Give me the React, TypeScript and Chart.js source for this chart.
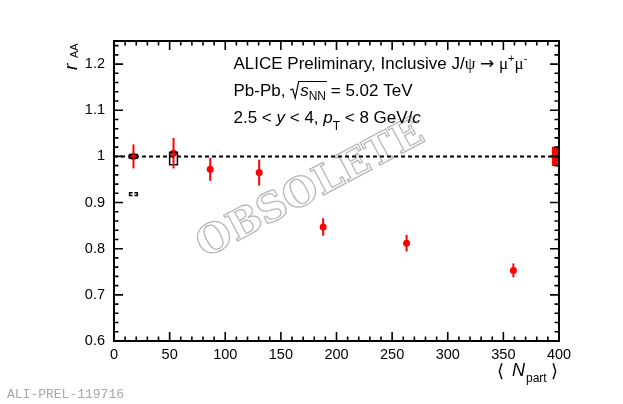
import { useEffect, useRef } from 'react';
import { Chart, registerables } from 'chart.js';

Chart.register(...registerables);

// <Npart> centres and r_AA values
const npart = [17.5, 53.5, 86.5, 130.5, 188, 263, 359];
const raa = [1.0, 1.007, 0.972, 0.965, 0.847, 0.812, 0.753];
const statErr = [0.026, 0.033, 0.025, 0.028, 0.019, 0.018, 0.015];

// uncorrelated systematic brackets (only visible ones)
const sysX = [17.5, 53.5, 17.5];
const sysLow = [0.996, 0.982, 0.915];
const sysHigh = [1.004, 1.009, 0.921];
const sysHalfWidth = 3.5;

// global (correlated) uncertainty box drawn at the right edge
const globalUnc = 0.021;
const globalBoxWidth = 6.4;

const xTickLabels = ['0', '50', '100', '150', '200', '250', '300', '350', '400'];

const SANS = '"Liberation Sans", Arial, sans-serif';
const SERIF = '"Liberation Serif", "DejaVu Serif", serif';
const RED = '#ff0000';

type Seg = { t: string; font: string; dy?: number };

function drawRich(ctx: CanvasRenderingContext2D, x: number, y: number, segs: Seg[]) {
  for (const s of segs) {
    ctx.font = s.font;
    ctx.fillText(s.t, x, y + (s.dy || 0));
    x += ctx.measureText(s.t).width;
  }
  return x;
}

const rootStyle = {
  id: 'rootStyle',
  beforeDatasetsDraw(chart: any) {
    const { ctx } = chart;
    const xs = chart.scales.x;
    const ys = chart.scales.y;

    // watermark
    ctx.save();
    ctx.translate(311, 190);
    ctx.rotate(-0.49);
    ctx.font = 'bold 40px "DejaVu Serif", serif';
    ctx.textAlign = 'center';
    ctx.textBaseline = 'middle';
    ctx.strokeStyle = '#b8b8b8';
    ctx.lineWidth = 1.3;
    ctx.strokeText('OBSOLETE', 0, 0);
    ctx.restore();

    // statistical error bars
    ctx.save();
    ctx.strokeStyle = RED;
    ctx.lineWidth = 2;
    npart.forEach((n, i) => {
      const px = xs.getPixelForValue(n);
      ctx.beginPath();
      ctx.moveTo(px, ys.getPixelForValue(raa[i] + statErr[i]));
      ctx.lineTo(px, ys.getPixelForValue(raa[i] - statErr[i]));
      ctx.stroke();
    });

    // global uncertainty box
    ctx.fillStyle = RED;
    const gx0 = xs.getPixelForValue(400 - globalBoxWidth);
    const gx1 = xs.getPixelForValue(400);
    const gy0 = ys.getPixelForValue(1 + globalUnc);
    const gy1 = ys.getPixelForValue(1 - globalUnc);
    ctx.fillRect(gx0, gy0, gx1 - gx0, gy1 - gy0);
    ctx.restore();
  },
  afterDatasetsDraw(chart: any) {
    const { ctx } = chart;
    const xs = chart.scales.x;
    const ys = chart.scales.y;
    ctx.save();
    ctx.strokeStyle = '#000';
    ctx.lineWidth = 1.5;
    const tab = 3;
    sysX.forEach((n, i) => {
      const xl = xs.getPixelForValue(n - sysHalfWidth);
      const xr = xs.getPixelForValue(n + sysHalfWidth);
      const yt = ys.getPixelForValue(sysHigh[i]);
      const yb = ys.getPixelForValue(sysLow[i]);
      ctx.beginPath();
      ctx.moveTo(xl + tab, yt);
      ctx.lineTo(xl, yt);
      ctx.lineTo(xl, yb);
      ctx.lineTo(xl + tab, yb);
      ctx.moveTo(xr - tab, yt);
      ctx.lineTo(xr, yt);
      ctx.lineTo(xr, yb);
      ctx.lineTo(xr - tab, yb);
      ctx.stroke();
    });
    ctx.restore();
  },
  afterDraw(chart: any) {
    const { ctx, chartArea } = chart;
    const { left, right, top, bottom } = chartArea;
    const xs = chart.scales.x;
    const ys = chart.scales.y;
    ctx.save();
    ctx.strokeStyle = '#000';
    ctx.fillStyle = '#000';

    // frame
    ctx.lineWidth = 2;
    ctx.strokeRect(left, top, right - left, bottom - top);

    // inward ticks on all four sides
    ctx.lineWidth = 1.6;
    ctx.beginPath();
    for (let i = 0; i <= 40; i++) {
      const len = i % 5 === 0 ? 9 : 4.5;
      const px = xs.getPixelForValue(i * 10);
      ctx.moveTo(px, bottom);
      ctx.lineTo(px, bottom - len);
      ctx.moveTo(px, top);
      ctx.lineTo(px, top + len);
    }
    for (let i = 0; i <= 32; i++) {
      const len = i % 5 === 0 ? 9 : 4.5;
      const py = ys.getPixelForValue(0.6 + i * 0.02);
      ctx.moveTo(left, py);
      ctx.lineTo(left + len, py);
      ctx.moveTo(right, py);
      ctx.lineTo(right - len, py);
    }
    ctx.stroke();

    // legend text block
    ctx.textBaseline = 'alphabetic';
    drawRich(ctx, 233.5, 69, [
      { t: 'ALICE Preliminary, Inclusive J/', font: `17px ${SANS}` },
      { t: 'ψ', font: `17px ${SERIF}` },
      { t: ' ', font: `17px ${SANS}` },
      { t: '→', font: `17px "DejaVu Sans", ${SANS}` },
      { t: ' ', font: `17px ${SANS}` },
      { t: 'μ', font: `17px ${SERIF}` },
      { t: '+', font: `11px ${SANS}`, dy: -7 },
      { t: 'μ', font: `17px ${SERIF}` },
      { t: '-', font: `11px ${SANS}`, dy: -7 },
    ]);

    let x = drawRich(ctx, 233.5, 96, [{ t: 'Pb-Pb, ', font: `17px ${SANS}` }]);
    const rx = x;
    x = drawRich(ctx, x + 10, 96, [
      { t: 's', font: `italic 17px ${SANS}` },
      { t: 'NN', font: `12px ${SANS}`, dy: 4 },
    ]);
    ctx.lineWidth = 1.2;
    ctx.beginPath();
    ctx.moveTo(rx, 90);
    ctx.lineTo(rx + 2.5, 89);
    ctx.lineTo(rx + 5, 98);
    ctx.lineTo(rx + 8.5, 81.5);
    ctx.lineTo(x + 1, 81.5);
    ctx.stroke();
    drawRich(ctx, x, 96, [{ t: ' = 5.02 TeV', font: `17px ${SANS}` }]);

    drawRich(ctx, 233.5, 123, [
      { t: '2.5 < ', font: `17px ${SANS}` },
      { t: 'y', font: `italic 17px ${SANS}` },
      { t: ' < 4, ', font: `17px ${SANS}` },
      { t: 'p', font: `italic 17px ${SANS}` },
      { t: 'T', font: `12px ${SANS}`, dy: 7 },
      { t: ' < 8 GeV/', font: `17px ${SANS}` },
      { t: 'c', font: `italic 17px ${SANS}` },
    ]);

    // y-axis title
    ctx.save();
    ctx.translate(77, 70);
    ctx.rotate(-Math.PI / 2);
    ctx.font = `italic 19px ${SANS}`;
    ctx.fillText('r', 0, 0);
    ctx.font = `11px ${SANS}`;
    ctx.fillText('AA', 12, 1);
    ctx.restore();

    // x-axis title
    ctx.font = `18px "DejaVu Sans", ${SANS}`;
    ctx.fillText('⟨', 497, 377);
    ctx.font = `italic 18px ${SANS}`;
    ctx.fillText('N', 512, 376);
    ctx.font = `12px ${SANS}`;
    ctx.fillText('part', 526, 382);
    ctx.font = `18px "DejaVu Sans", ${SANS}`;
    ctx.fillText('⟩', 551, 377);

    // figure id
    ctx.fillStyle = '#a8a8a8';
    ctx.font = '13px "Liberation Mono", "DejaVu Sans Mono", monospace';
    ctx.fillText('ALI-PREL-119716', 7, 398);
    ctx.restore();
  },
};

export default function App() {
  const chartRef = useRef<HTMLCanvasElement | null>(null);

  useEffect(() => {
    const ctx = chartRef.current?.getContext('2d');
    if (!ctx) return;

    const chartInstance = new Chart(ctx, {
      type: 'scatter',
      data: {
        datasets: [
          {
            data: npart.map((n, i) => ({ x: n, y: raa[i] })),
            pointRadius: 3.5,
            pointBackgroundColor: RED,
            pointBorderColor: RED,
            pointBorderWidth: 0,
          },
          {
            data: [
              { x: 0, y: 1 },
              { x: 400, y: 1 },
            ],
            showLine: true,
            pointRadius: 0,
            borderColor: '#000',
            borderWidth: 2,
            borderDash: [4, 3],
          },
        ],
      },
      options: {
        animation: false,
        responsive: false,
        events: [],
        layout: { padding: { left: 0, top: 41, right: 64, bottom: 0 } },
        plugins: {
          legend: { display: false },
          tooltip: { enabled: false },
        },
        scales: {
          x: {
            type: 'linear',
            min: 0,
            max: 400,
            grid: { display: false, drawTicks: false },
            border: { display: false },
            ticks: {
              stepSize: 50,
              maxRotation: 0,
              autoSkip: false,
              padding: 5,
              color: '#000',
              font: { family: SANS, size: 14.5 },
              callback: (v: any) => xTickLabels[Math.round(Number(v) / 50)] ?? '',
            },
            afterFit: (s: any) => {
              s.height = 63;
            },
          },
          y: {
            type: 'linear',
            min: 0.6,
            max: 1.25,
            grid: { display: false, drawTicks: false },
            border: { display: false },
            ticks: {
              stepSize: 0.1,
              autoSkip: false,
              padding: 9,
              color: '#000',
              font: { family: SANS, size: 14.5 },
              callback: (v: any) => {
                const n = Number(v);
                return Math.abs(n * 10 - Math.round(n * 10)) < 1e-6 ? String(Number(n.toFixed(1))) : '';
              },
            },
            afterFit: (s: any) => {
              s.width = 114;
            },
          },
        },
      },
      plugins: [rootStyle],
    });

    return () => {
      chartInstance.destroy();
    };
  }, []);

  return (
    <div style={{ position: 'absolute', left: 0, top: 0, width: 623, height: 404, background: '#fff' }}>
      <canvas ref={chartRef} width={623} height={404}></canvas>
    </div>
  );
}
